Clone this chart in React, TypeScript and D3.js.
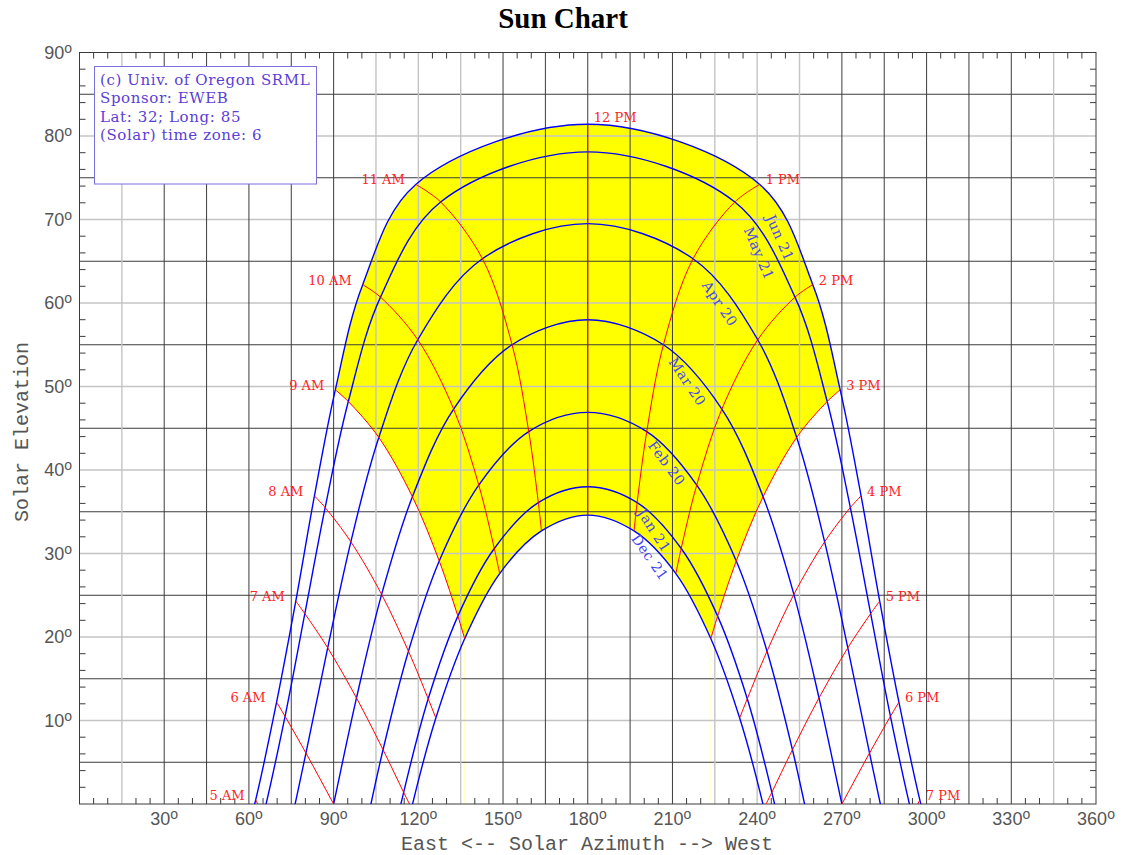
import React from "react";
import * as d3 from "d3";

type P = [number, number];

// sun positions (azimuth, elevation) at each solar hour, 4 AM .. 8 PM
const hourNames = ["4 AM", "5 AM", "6 AM", "7 AM", "8 AM", "9 AM", "10 AM", "11 AM", "12 PM",
  "1 PM", "2 PM", "3 PM", "4 PM", "5 PM", "6 PM", "7 PM", "8 PM"];
const dayNames = ["Jun 21", "May 21", "Apr 20", "Mar 20", "Feb 20", "Jan 21", "Dec 21"];

const jun21Az = [53.9, 62.4, 69.8, 76.6, 83.2, 90.6, 100.3, 119.1, 180, 240.9, 259.7, 269.4, 276.8, 283.4, 290.2, 297.6, 306.1];
const jun21El = [-10.3, 0.5, 12.2, 24.3, 36.9, 49.6, 62.2, 74.2, 81.4, 74.2, 62.2, 49.6, 36.9, 24.3, 12.2, 0.5, -10.3];
const may21Az = [56.4, 65.1, 72.8, 79.8, 87.0, 95.2, 106.6, 127.9, 180, 232.1, 253.4, 264.8, 273.0, 280.2, 287.2, 294.9, 303.6];
const may21El = [-12.5, -1.4, 10.5, 22.8, 35.5, 48.2, 60.7, 72.1, 78.1, 72.1, 60.7, 48.2, 35.5, 22.8, 10.5, -1.4, -12.5];
const apr20Az = [63.2, 72.2, 80.2, 87.9, 96.1, 106.0, 119.8, 142.7, 180, 217.3, 240.2, 254.0, 263.9, 272.1, 279.8, 287.8, 296.8];
const apr20El = [-18.1, -6.3, 6.1, 18.7, 31.4, 43.9, 55.6, 65.3, 69.5, 65.3, 55.6, 43.9, 31.4, 18.7, 6.1, -6.3, -18.1];
const mar20Az = [null, 81.9, 90.0, 98.1, 107.0, 117.9, 132.5, 153.2, 180, 206.8, 227.5, 242.1, 253.0, 261.9, 270.0, 278.1, null];
const mar20El = [null, -12.7, 0, 12.7, 25.1, 36.8, 47.3, 55.0, 58.0, 55.0, 47.3, 36.8, 25.1, 12.7, 0, -12.7, null];
const feb20Az = [null, 91.7, 99.5, 107.5, 116.5, 127.4, 141.4, 159.1, 180, 200.9, 218.6, 232.6, 243.5, 252.5, 260.5, 268.3, null];
const feb20El = [null, -18.5, -5.9, 6.5, 18.3, 29.1, 38.2, 44.6, 46.9, 44.6, 38.2, 29.1, 18.3, 6.5, -5.9, -18.5, null];
const jan21Az = [null, null, 107.2, 114.8, 123.5, 134.0, 146.9, 162.5, 180, 197.5, 213.1, 226.0, 236.5, 245.2, 252.8, null, null];
const jan21El = [null, null, -10.4, 1.4, 12.6, 22.5, 30.6, 36.1, 38.0, 36.1, 30.6, 22.5, 12.6, 1.4, -10.4, null, null];
const dec21Az = [null, null, 110.2, 117.6, 126.2, 136.4, 148.8, 163.6, 180, 196.4, 211.2, 223.6, 233.8, 242.4, 249.8, null, null];
const dec21El = [null, null, -12.2, -0.5, 10.3, 19.8, 27.6, 32.7, 34.6, 32.7, 27.6, 19.8, 10.3, -0.5, -12.2, null, null];

const dayAz = [jun21Az, may21Az, apr20Az, mar20Az, feb20Az, jan21Az, dec21Az];
const dayEl = [jun21El, may21El, apr20El, mar20El, feb20El, jan21El, dec21El];

// tilt of the date labels (degrees)
const dateLabelTilt = [66, 67, 56, 56, 53, 57, 55];

const azTicks = d3.range(30, 361, 30);
const elTicks = d3.range(10, 91, 10);
const legendLines = ["(c) Univ. of Oregon SRML", "Sponsor: EWEB", "Lat: 32; Long: 85", "(Solar) time zone: 6"];

const lightAz = [15, 105, 120, 135, 225, 240, 255, 345];

export default function App() {
  const x = d3.scaleLinear().domain([0, 360]).range([79.5, 1096]);
  const y = d3.scaleLinear().domain([0, 90]).range([804, 52.5]);

  const dayPts = (k: number) =>
    dayAz[k].map((a, i) => (a == null ? null : ([a, dayEl[k][i]] as P))).filter(Boolean) as P[];
  const hourPts = (i: number) =>
    dayAz.map((az, k) => (az[i] == null ? null : ([az[i], dayEl[k][i]] as P))).filter(Boolean) as P[];

  const curve = d3.curveCatmullRom.alpha(0.5);
  const line = d3.line<P>().x(d => x(d[0])).y(d => y(d[1])).curve(curve);
  const under = d3.area<P>().x(d => x(d[0])).y0(y(-30)).y1(d => y(d[1])).curve(curve);

  // region between the 9 AM and 3 PM hour lines
  const h9 = hourPts(5);
  const h15 = hourPts(11).slice().reverse();
  const sunClip =
    line(h9) +
    `L${x(h9[h9.length - 1][0])},${y(-30)}L${x(h15[0][0])},${y(-30)}` +
    (line(h15) as string).replace(/^M/, "L") +
    `L${x(h15[h15.length - 1][0])},${y(100)}L${x(h9[0][0])},${y(100)}Z`;

  const x0 = x(0), x1 = x(360), yb = y(0), yt = y(90);
  const gridDark = "#3c3c3c";
  const gridLight = "#c4c4c4";
  const axisText = "#555";

  const sup = (v: number) => (
    <>
      {v}
      <tspan fontSize={14} dy={-6}>o</tspan>
    </>
  );

  return (
    <svg width={1122} height={855} style={{ position: "absolute", left: 0, top: 0, background: "#fff" }}>
      <defs>
        <clipPath id="plotClip">
          <rect x={x0} y={yt} width={x1 - x0} height={yb - yt} />
        </clipPath>
        <clipPath id="sunClip">
          <path d={sunClip} />
        </clipPath>
      </defs>

      <text x={563} y={28} textAnchor="middle" fontFamily="Liberation Serif, Times New Roman, serif"
        fontWeight="bold" fontSize={29} fill="#000">Sun Chart</text>

      {/* yellow band: between Jun 21 and Dec 21, 9 AM to 3 PM */}
      <g clipPath="url(#plotClip)">
        <g clipPath="url(#sunClip)">
          <path d={under(dayPts(0)) as string} fill="#ffff00" />
          <path d={under(dayPts(6)) as string} fill="#fff" />
        </g>
      </g>

      {/* grid */}
      <g>
        {d3.range(5, 90, 5).map(v => (
          <line key={"h" + v} x1={x0} x2={x1} y1={y(v)} y2={y(v)}
            stroke={v % 10 === 0 ? gridLight : gridDark} strokeWidth={v % 10 === 0 ? 1.4 : 1} />
        ))}
        {d3.range(15, 360, 15).map(v => (
          <line key={"v" + v} x1={x(v)} x2={x(v)} y1={yt} y2={yb}
            stroke={lightAz.includes(v) ? gridLight : gridDark} strokeWidth={lightAz.includes(v) ? 1.4 : 1} />
        ))}
        {d3.range(5, 360, 5).filter(v => v % 15 !== 0).map(v => (
          <g key={"tx" + v} stroke={gridDark}>
            <line x1={x(v)} x2={x(v)} y1={yb} y2={yb - 6} />
            <line x1={x(v)} x2={x(v)} y1={yt} y2={yt + 6} />
          </g>
        ))}
        {d3.range(2, 90, 2).filter(v => v % 10 !== 0).map(v => (
          <g key={"ty" + v} stroke={gridDark}>
            <line x1={x0} x2={x0 + 6} y1={y(v)} y2={y(v)} />
            <line x1={x1} x2={x1 - 6} y1={y(v)} y2={y(v)} />
          </g>
        ))}
        <rect x={x0} y={yt} width={x1 - x0} height={yb - yt} fill="none" stroke={gridDark} strokeWidth={1} />
      </g>

      {/* axis labels */}
      <g fontFamily="Liberation Sans, Arial, sans-serif" fontSize={18} fill={axisText}>
        {azTicks.map(v => (
          <text key={"ax" + v} x={x(v)} y={825} textAnchor="middle">{sup(v)}</text>
        ))}
        {elTicks.map(v => (
          <text key={"el" + v} x={72} y={y(v) + 6} textAnchor="end">{sup(v)}</text>
        ))}
      </g>
      <text x={587} y={850} textAnchor="middle" fontFamily="Liberation Mono, monospace" fontSize={20}
        fill={axisText}>East &lt;-- Solar Azimuth --&gt; West</text>
      <text transform={`translate(28,432) rotate(-90)`} textAnchor="middle" fontFamily="Liberation Mono, monospace"
        fontSize={20} fill={axisText}>Solar Elevation</text>

      {/* legend */}
      <rect x={94.5} y={66.5} width={222} height={117.5} fill="#fff" stroke="#7b6ee0" strokeWidth={1} />
      <g fontFamily="DejaVu Serif, serif" fontSize={15} letterSpacing={0.6} fill="#5a3fd6">
        {legendLines.map((t, i) => (
          <text key={t} x={100} y={85 + i * 18.3}>{t}</text>
        ))}
      </g>

      <g clipPath="url(#plotClip)" fill="none">
        {dayNames.map((n, k) => (
          <path key={n} d={line(dayPts(k)) as string} stroke="#0000ff" strokeWidth={1.4} />
        ))}
        {d3.range(1, 16).map(i => (
          <path key={"hr" + i} d={line(hourPts(i)) as string} stroke="#ff0000" strokeWidth={1} />
        ))}
      </g>

      {/* hour labels beside the Jun 21 curve */}
      <g fontFamily="DejaVu Serif, serif" fontSize={13} fill="#ff2424">
        {d3.range(1, 16).map(i => {
          const px = x(jun21Az[i] as number);
          const py = y(jun21El[i] as number);
          if (i < 8) return <text key={"hl" + i} x={px - 11} y={py} textAnchor="end">{hourNames[i]}</text>;
          return <text key={"hl" + i} x={px + 6} y={i === 8 ? py - 2 : py}>{hourNames[i]}</text>;
        })}
      </g>

      {/* date labels between the 1 PM and 2 PM points */}
      <g fontFamily="DejaVu Serif, serif" fontSize={14} letterSpacing={0.5} fill="#4646f0">
        {dayNames.map((n, k) => {
          const ax = x(dayAz[k][9] as number), ay = y(dayEl[k][9] as number);
          const bx = x(dayAz[k][10] as number), by = y(dayEl[k][10] as number);
          const len = Math.hypot(bx - ax, by - ay);
          const nx = -(by - ay) / len, ny = (bx - ax) / len;
          const cx = (ax + bx) / 2 + nx * 7, cy = (ay + by) / 2 + ny * 7;
          return (
            <text key={"dl" + n} transform={`translate(${cx},${cy}) rotate(${dateLabelTilt[k]})`}
              textAnchor="middle" dominantBaseline="central">{n}</text>
          );
        })}
      </g>
    </svg>
  );
}
